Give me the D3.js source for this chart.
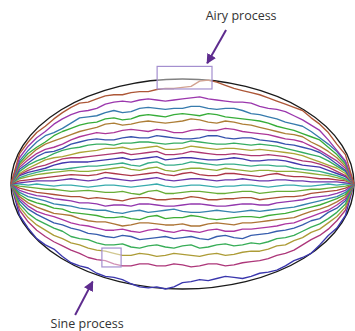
<!DOCTYPE html>
<html>
<head>
<meta charset="utf-8">
<script src="https://cdn.jsdelivr.net/npm/d3@7"></script>
<style>
  body { margin: 0; background: #fff; }
  .label { font-family: "Open Sans", "Noto Sans", sans-serif; font-size: 12.5px; fill: #333; }
</style>
</head>
<body>
<div id="chart"></div>
<script>
// time stations (t from 0 to 1)
const times = [0, .025, .05, .075, .1, .125, .15, .175, .2, .225, .25, .275, .3, .325, .35, .375, .4, .425, .45, .475,
  .5, .525, .55, .575, .6, .625, .65, .675, .7, .725, .75, .775, .8, .825, .85, .875, .9, .925, .95, .975, 1];

// paths, bottom (first) to top (last), y in units of the ellipse half-height
const path0  = [0,-.30,-.42,-.52,-.58,-.62,-.69,-.75,-.78,-.80,-.85,-.88,-.89,-.91,-.95,-.98,-.99,-.98,-1.0,-.98,-.94,-.93,-.91,-.92,-.90,-.88,-.89,-.90,-.88,-.85,-.84,-.82,-.78,-.73,-.70,-.66,-.58,-.49,-.42,-.30,0];
const path1  = [0,-.25,-.36,-.44,-.50,-.55,-.59,-.63,-.66,-.70,-.72,-.73,-.76,-.78,-.78,-.76,-.76,-.78,-.78,-.76,-.77,-.79,-.78,-.76,-.76,-.78,-.77,-.75,-.74,-.73,-.71,-.68,-.66,-.63,-.58,-.53,-.49,-.43,-.35,-.25,0];
const path2  = [0,-.22,-.32,-.39,-.44,-.49,-.52,-.56,-.58,-.61,-.63,-.64,-.66,-.68,-.68,-.66,-.67,-.69,-.68,-.66,-.67,-.68,-.69,-.67,-.66,-.68,-.67,-.65,-.64,-.64,-.62,-.59,-.58,-.54,-.51,-.46,-.43,-.37,-.31,-.22,0];
const path3  = [0,-.19,-.28,-.34,-.38,-.42,-.45,-.50,-.52,-.53,-.56,-.58,-.58,-.57,-.60,-.61,-.59,-.58,-.60,-.61,-.59,-.58,-.61,-.60,-.58,-.57,-.59,-.58,-.56,-.57,-.55,-.52,-.51,-.49,-.45,-.41,-.38,-.33,-.27,-.19,0];
const path4  = [0,-.16,-.24,-.29,-.33,-.37,-.39,-.42,-.44,-.47,-.48,-.50,-.51,-.49,-.50,-.53,-.52,-.51,-.50,-.52,-.51,-.50,-.52,-.53,-.50,-.49,-.51,-.52,-.49,-.48,-.47,-.45,-.44,-.42,-.39,-.35,-.33,-.27,-.23,-.16,0];
const path5  = [0,-.14,-.21,-.26,-.29,-.31,-.34,-.37,-.39,-.40,-.42,-.44,-.44,-.43,-.45,-.46,-.44,-.43,-.45,-.46,-.44,-.45,-.46,-.44,-.43,-.45,-.45,-.43,-.43,-.42,-.41,-.40,-.38,-.37,-.34,-.31,-.28,-.25,-.20,-.14,0];
const path6  = [0,-.12,-.18,-.22,-.25,-.28,-.29,-.30,-.33,-.35,-.36,-.36,-.38,-.40,-.39,-.37,-.37,-.38,-.39,-.39,-.38,-.40,-.40,-.38,-.37,-.38,-.39,-.37,-.37,-.36,-.35,-.34,-.33,-.32,-.29,-.26,-.24,-.21,-.17,-.12,0];
const path7  = [0,-.10,-.15,-.18,-.20,-.23,-.24,-.27,-.28,-.29,-.30,-.32,-.32,-.31,-.33,-.34,-.31,-.30,-.33,-.32,-.32,-.30,-.31,-.33,-.34,-.33,-.32,-.31,-.31,-.32,-.30,-.29,-.28,-.26,-.24,-.22,-.20,-.17,-.14,-.10,0];
const path8  = [0,-.08,-.12,-.14,-.16,-.19,-.20,-.21,-.23,-.24,-.25,-.25,-.27,-.28,-.26,-.25,-.27,-.26,-.25,-.24,-.26,-.27,-.27,-.26,-.25,-.26,-.27,-.26,-.25,-.26,-.25,-.24,-.23,-.22,-.20,-.18,-.16,-.14,-.12,-.08,0];
const path9  = [0,-.06,-.09,-.11,-.12,-.14,-.15,-.16,-.18,-.18,-.19,-.21,-.20,-.20,-.21,-.19,-.19,-.20,-.21,-.21,-.20,-.19,-.19,-.20,-.21,-.21,-.20,-.19,-.19,-.20,-.20,-.18,-.17,-.16,-.15,-.13,-.12,-.11,-.09,-.06,0];
const path10 = [0,-.04,-.06,-.08,-.09,-.10,-.11,-.12,-.12,-.14,-.13,-.14,-.15,-.16,-.14,-.13,-.13,-.15,-.15,-.14,-.14,-.12,-.13,-.15,-.15,-.14,-.14,-.13,-.13,-.15,-.14,-.13,-.12,-.12,-.11,-.09,-.08,-.07,-.06,-.04,0];
const path11 = [0,-.02,-.03,-.04,-.05,-.05,-.06,-.07,-.065,-.06,-.07,-.08,-.08,-.07,-.09,-.10,-.07,-.06,-.09,-.09,-.08,-.07,-.07,-.08,-.09,-.09,-.08,-.07,-.07,-.09,-.08,-.07,-.07,-.07,-.06,-.05,-.05,-.04,-.03,-.02,0];
const path12 = [0,0,-.01,0,-.01,-.02,-.01,-.01,-.02,-.03,-.02,-.01,-.01,-.02,-.03,-.02,-.01,0,-.02,-.03,-.02,-.01,-.01,-.02,-.03,-.02,-.02,-.01,-.01,-.02,-.03,-.02,-.01,-.01,-.02,-.02,-.01,0,-.01,0,0];
const path13 = [0,.01,.02,.03,.03,.03,.04,.05,.04,.03,.04,.06,.05,.04,.03,.04,.05,.06,.04,.03,.04,.05,.05,.04,.03,.04,.04,.05,.04,.03,.03,.04,.04,.03,.03,.02,.02,.02,.02,.01,0];
const path14 = [0,.03,.04,.05,.06,.07,.08,.09,.085,.08,.09,.11,.10,.09,.08,.09,.10,.11,.09,.08,.10,.11,.09,.08,.08,.10,.10,.09,.08,.07,.09,.10,.08,.07,.07,.06,.05,.05,.04,.03,0];
const path15 = [0,.05,.07,.09,.10,.11,.12,.13,.12,.12,.13,.14,.15,.16,.14,.13,.15,.16,.13,.12,.14,.15,.15,.14,.13,.15,.14,.13,.12,.13,.13,.12,.12,.12,.11,.10,.09,.08,.06,.04,0];
const path16 = [0,.06,.09,.11,.13,.14,.14,.15,.16,.17,.17,.18,.19,.20,.18,.17,.20,.21,.18,.18,.19,.21,.20,.19,.18,.19,.19,.18,.17,.18,.18,.17,.17,.15,.14,.13,.12,.10,.08,.05,0];
const path17 = [0,.08,.11,.13,.15,.18,.20,.21,.21,.21,.22,.23,.24,.25,.23,.24,.25,.26,.23,.24,.25,.25,.24,.23,.23,.24,.25,.24,.22,.22,.23,.23,.22,.20,.18,.17,.16,.13,.10,.07,0];
const path18 = [0,.09,.13,.16,.18,.21,.24,.25,.25,.26,.27,.28,.29,.30,.28,.29,.30,.31,.28,.28,.29,.31,.30,.29,.28,.28,.29,.28,.27,.27,.28,.27,.26,.24,.22,.21,.19,.16,.12,.08,0];
const path19 = [0,.10,.15,.19,.23,.25,.26,.28,.30,.31,.32,.34,.34,.35,.33,.34,.35,.36,.33,.33,.34,.36,.35,.34,.33,.34,.34,.33,.32,.33,.32,.31,.30,.29,.27,.24,.21,.18,.15,.10,0];
const path20 = [0,.12,.18,.22,.25,.29,.32,.34,.35,.37,.38,.38,.37,.39,.39,.40,.40,.39,.38,.39,.39,.41,.40,.39,.38,.38,.39,.38,.37,.38,.37,.36,.34,.32,.30,.28,.26,.22,.17,.12,0];
const path21 = [0,.14,.20,.26,.30,.31,.34,.38,.40,.42,.43,.42,.42,.44,.45,.44,.44,.46,.45,.44,.43,.43,.44,.46,.46,.44,.43,.44,.44,.42,.41,.40,.38,.37,.35,.33,.30,.25,.19,.13,0];
const path22 = [0,.16,.23,.29,.33,.35,.38,.42,.45,.47,.49,.48,.49,.51,.52,.51,.50,.52,.51,.49,.49,.51,.52,.51,.51,.53,.52,.50,.49,.48,.47,.45,.43,.42,.40,.36,.32,.27,.22,.15,0];
const path23 = [0,.18,.26,.33,.38,.41,.44,.47,.50,.52,.54,.57,.58,.56,.57,.59,.60,.59,.58,.59,.60,.62,.61,.59,.58,.60,.59,.57,.56,.54,.52,.50,.48,.47,.45,.40,.36,.31,.25,.17,0];
const path24 = [0,.20,.29,.35,.40,.46,.50,.53,.56,.58,.59,.62,.63,.61,.62,.65,.66,.65,.64,.66,.67,.66,.65,.67,.66,.64,.63,.62,.61,.60,.58,.55,.53,.51,.48,.45,.42,.35,.28,.19,0];
const path25 = [0,.22,.32,.40,.46,.49,.53,.58,.63,.64,.65,.68,.70,.68,.69,.72,.73,.72,.71,.72,.72,.74,.74,.72,.71,.72,.72,.70,.67,.66,.64,.62,.59,.57,.55,.50,.44,.38,.31,.21,0];
const path26 = [0,.25,.36,.44,.50,.57,.62,.66,.69,.70,.72,.76,.78,.79,.78,.80,.81,.80,.79,.80,.81,.82,.83,.81,.80,.79,.78,.78,.77,.74,.72,.71,.69,.65,.61,.56,.51,.42,.32,.22,0];
const path27 = [0,.29,.40,.49,.55,.62,.68,.73,.77,.78,.81,.84,.85,.85,.87,.88,.88,.90,.91,.91,.92,.93,.98,.99,.97,.94,.91,.89,.87,.85,.82,.79,.76,.73,.70,.63,.57,.49,.38,.28,0];

const paths = [path0, path1, path2, path3, path4, path5, path6, path7, path8, path9,
  path10, path11, path12, path13, path14, path15, path16, path17, path18, path19,
  path20, path21, path22, path23, path24, path25, path26, path27];

// highlight boxes (t0, t1, yTop, yBottom)
const boxes = [
  { t0: .426, t1: .586, y0: 1.12, y1: .905 },
  { t0: .265, t1: .321, y0: -.61, y1: -.79 }
];

// annotation arrows: tail -> tip
const arrows = [
  { t0: .627, y0: 1.467, t1: .572, y1: 1.15 },
  { t0: .187, y0: -1.248, t1: .238, y1: -.93 }
];
const labels = [
  { text: "Airy process", t: .671, y: 1.565 },
  { text: "Sine process", t: .222, y: -1.37 }
];

const width = 355, height = 331;

const svg = d3.select('#chart').append('svg')
  .attr('width', width)
  .attr('height', height);

const x = d3.scaleLinear().domain([0, 1]).range([11, 354]);
const y = d3.scaleLinear().domain([-1, 1]).range([289, 79]);

// golden-angle hue cycle, as in the default plot style
function hsvColor(h, s, v) {
  const i = Math.floor(h * 6), f = h * 6 - i;
  const p = v * (1 - s), q = v * (1 - f * s), r = v * (1 - (1 - f) * s);
  const c = [[v, r, p], [q, v, p], [p, v, r], [p, q, v], [r, p, v], [v, p, q]][i % 6];
  return d3.rgb(c[0] * 255, c[1] * 255, c[2] * 255).toString();
}
const color = i => hsvColor((0.67 + i * 0.2360679775) % 1, 0.68, 0.68);

// limit shape
svg.append('ellipse')
  .attr('cx', x(0.5))
  .attr('cy', y(0))
  .attr('rx', x(1) - x(0.5))
  .attr('ry', y(-1) - y(0))
  .attr('fill', 'none')
  .attr('stroke', '#1a1a1a')
  .attr('stroke-width', 1.4);

const line = d3.line()
  .x((d, i) => x(times[i]))
  .y(d => y(d));

svg.append('g')
  .selectAll('path')
  .data(paths)
  .enter().append('path')
    .attr('d', line)
    .attr('fill', 'none')
    .attr('stroke', (d, i) => color(i))
    .attr('stroke-width', 1.35)
    .attr('stroke-linejoin', 'round');

svg.append('g')
  .selectAll('rect')
  .data(boxes)
  .enter().append('rect')
    .attr('x', d => x(d.t0))
    .attr('y', d => y(d.y0))
    .attr('width', d => x(d.t1) - x(d.t0))
    .attr('height', d => y(d.y1) - y(d.y0))
    .attr('fill', 'rgba(255,255,255,0.45)')
    .attr('stroke', '#a48fcf')
    .attr('stroke-width', 1.2);

// arrows
svg.append('defs').append('marker')
    .attr('id', 'head')
    .attr('viewBox', '0 0 10 10')
    .attr('refX', 9)
    .attr('refY', 5)
    .attr('markerWidth', 5)
    .attr('markerHeight', 5)
    .attr('markerUnits', 'strokeWidth')
    .attr('orient', 'auto')
  .append('path')
    .attr('d', 'M0,0L10,5L0,10z')
    .attr('fill', '#5e2c8e');

svg.append('g')
  .selectAll('line')
  .data(arrows)
  .enter().append('line')
    .attr('x1', d => x(d.t0))
    .attr('y1', d => y(d.y0))
    .attr('x2', d => x(d.t1))
    .attr('y2', d => y(d.y1))
    .attr('stroke', '#5e2c8e')
    .attr('stroke-width', 2)
    .attr('marker-end', 'url(#head)');

svg.append('g')
  .selectAll('text')
  .data(labels)
  .enter().append('text')
    .attr('class', 'label')
    .attr('x', d => x(d.t))
    .attr('y', d => y(d.y))
    .attr('text-anchor', 'middle')
    .text(d => d.text);
</script>
</body>
</html>
